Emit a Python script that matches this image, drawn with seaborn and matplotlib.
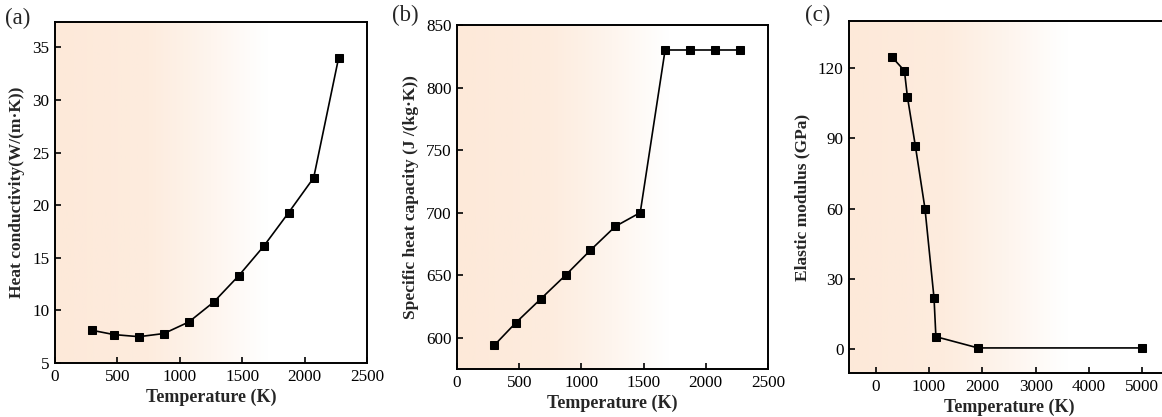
import numpy as np
import pandas as pd
import matplotlib
matplotlib.use("Agg")
import matplotlib.pyplot as plt
from matplotlib.colors import LinearSegmentedColormap
import seaborn as sns

# ---- data ----
temp_a = [300, 473, 673, 873, 1073, 1273, 1473, 1673, 1873, 2073, 2273]
heat_cond = [8.1, 7.7, 7.5, 7.8, 8.9, 10.8, 13.3, 16.1, 19.3, 22.6, 34.0]

temp_b = [300, 473, 673, 873, 1073, 1273, 1473, 1673, 1873, 2073, 2273]
spec_heat = [594, 612, 631, 650, 670, 689, 700, 830, 830, 830, 830]

temp_c = [300, 540, 595, 745, 925, 1095, 1130, 1920, 4990]
elastic = [124.8, 118.8, 107.8, 86.7, 60.0, 21.8, 5.3, 0.5, 0.5]

xticks_ab = [0, 500, 1000, 1500, 2000, 2500]
yticks_a = [5, 10, 15, 20, 25, 30, 35]
yticks_b = [600, 650, 700, 750, 800, 850]
xticks_c = [0, 1000, 2000, 3000, 4000, 5000]
yticks_c = [0, 30, 60, 90, 120]

sns.set_theme(style="ticks")
plt.rcParams['font.family'] = ['Liberation Serif', 'DejaVu Serif']

fig = plt.figure(figsize=(11.62, 4.17), dpi=100)

cmap = LinearSegmentedColormap.from_list(
    "peach", [(0.0, "#fde9d9"), (0.3, "#fdecde"), (0.5, "#fef5ee"),
              (0.68, "#ffffff"), (1.0, "#ffffff")])
grad = np.linspace(0, 1, 256).reshape(1, -1)

def style_ax(ax, xlim, ylim, xticks, yticks, ylabel):
    ax.imshow(grad, aspect='auto', cmap=cmap, extent=[0, 1, 0, 1],
              transform=ax.transAxes, zorder=0)
    ax.set_xlim(*xlim)
    ax.set_ylim(*ylim)
    ax.set_xticks(xticks)
    ax.set_yticks(yticks)
    ax.tick_params(direction='in', length=4, width=1.2, labelsize=12.3,
                   colors='black', pad=4)
    for s in ax.spines.values():
        s.set_linewidth(1.4)
        s.set_color('black')
    ax.set_xlabel("Temperature (K)", fontsize=13, fontweight='bold', labelpad=3)
    ax.set_ylabel(ylabel, fontsize=12.5, fontweight='bold', labelpad=5)

def draw(ax, x, y):
    df = pd.DataFrame({"x": x, "y": y})
    sns.lineplot(data=df, x="x", y="y", ax=ax, color='black', linewidth=1.2,
                 marker='s', markersize=5.5, markeredgecolor='black',
                 markerfacecolor='black', zorder=3)

ax1 = fig.add_axes([0.0473, 0.1295, 0.2685, 0.8177])
draw(ax1, temp_a, heat_cond)
style_ax(ax1, (0, 2500), (5, 37.4), xticks_ab, yticks_a, "Heat conductivity(W/(m·K))")

ax2 = fig.add_axes([0.3933, 0.1151, 0.2676, 0.8250])
draw(ax2, temp_b, spec_heat)
style_ax(ax2, (0, 2500), (575, 850), xticks_ab, yticks_b, "Specific heat capacity (J /(kg·K))")

ax3 = fig.add_axes([0.7306, 0.1055, 0.2754, 0.8440])
draw(ax3, temp_c, elastic)
style_ax(ax3, (-500, 5500), (-10.2, 140), xticks_c, yticks_c, "Elastic modulus (GPa)")

fig.text(0.004, 0.955, "(a)", fontsize=16.5, ha='left', va='center')
fig.text(0.337, 0.962, "(b)", fontsize=16.5, ha='left', va='center')
fig.text(0.693, 0.962, "(c)", fontsize=16.5, ha='left', va='center')

fig.savefig("out.png", dpi=100)
